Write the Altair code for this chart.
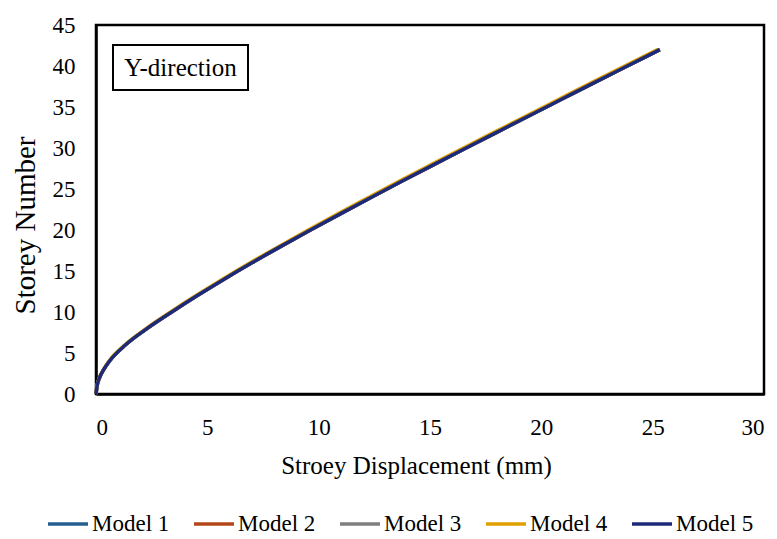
import altair as alt
import pandas as pd

storeys = [0, 1, 2, 3, 4, 6, 8, 10, 12, 14, 16, 18, 20, 22, 24, 26, 28, 30, 32, 34, 36, 38, 40, 42]
model_1 = [0, 0.05, 0.16, 0.35, 0.60, 1.33, 2.30, 3.40, 4.55, 5.75, 7.00, 8.30, 9.63, 10.99, 12.37, 13.77, 15.19, 16.62, 18.06, 19.50, 20.95, 22.40, 23.86, 25.32]
model_2 = [0, 0.05, 0.16, 0.35, 0.60, 1.33, 2.30, 3.40, 4.55, 5.75, 7.00, 8.30, 9.63, 10.99, 12.37, 13.77, 15.19, 16.62, 18.06, 19.50, 20.95, 22.40, 23.86, 25.32]
model_3 = [0, 0.05, 0.16, 0.35, 0.60, 1.33, 2.30, 3.40, 4.55, 5.75, 7.00, 8.30, 9.63, 10.99, 12.37, 13.77, 15.19, 16.62, 18.06, 19.50, 20.95, 22.40, 23.86, 25.32]
model_4 = [0, 0.05, 0.16, 0.34, 0.58, 1.30, 2.26, 3.35, 4.49, 5.68, 6.92, 8.21, 9.53, 10.88, 12.26, 13.65, 15.07, 16.50, 17.94, 19.38, 20.83, 22.28, 23.74, 25.22]
model_5 = [0, 0.05, 0.16, 0.35, 0.60, 1.33, 2.30, 3.40, 4.55, 5.75, 7.00, 8.30, 9.63, 10.99, 12.37, 13.77, 15.19, 16.62, 18.06, 19.50, 20.95, 22.40, 23.86, 25.32]

models = ["Model 1", "Model 2", "Model 3", "Model 4", "Model 5"]
colors = ["#255E91", "#B4461A", "#7F7F7F", "#E0A100", "#1C2A79"]
series = [model_1, model_2, model_3, model_4, model_5]

rows = []
for i, (name, vals) in enumerate(zip(models, series)):
    for s, d in zip(storeys, vals):
        rows.append({"Model": name, "order": i, "Storey": s, "Disp": d})
df = pd.DataFrame(rows)

FONT = "Liberation Serif"

lines = alt.Chart(df).mark_line(strokeWidth=3.5, interpolate="monotone").encode(
    x=alt.X("Disp:Q", scale=alt.Scale(domain=[0, 30], nice=False),
            axis=alt.Axis(title="Stroey Displacement (mm)", values=[0, 5, 10, 15, 20, 25, 30],
                          ticks=False, grid=False, labelPadding=22, titlePadding=14,
                          labelFont=FONT, labelFontSize=23, labelColor="black",
                          titleFont=FONT, titleFontSize=25, titleColor="black",
                          titleFontWeight="normal", titleX=320, titleAlign="center",
                          domainColor="black", domainWidth=2.5)),
    y=alt.Y("Storey:Q", scale=alt.Scale(domain=[0, 45], nice=False),
            axis=alt.Axis(title="Storey Number", values=[0, 5, 10, 15, 20, 25, 30, 35, 40, 45],
                          ticks=False, grid=False, labelPadding=21, titlePadding=12,
                          labelFont=FONT, labelFontSize=23, labelColor="black",
                          titleFont=FONT, titleFontSize=29, titleColor="black",
                          titleFontWeight="normal", titleY=200, titleAlign="center",
                          domainColor="black", domainWidth=2.5)),
    color=alt.Color("Model:N", scale=alt.Scale(domain=models, range=colors),
                    legend=alt.Legend(title=None, orient="none", direction="horizontal",
                                      legendX=-50, legendY=477,
                                      symbolType="stroke", symbolSize=1600,
                                      symbolStrokeWidth=3.5, columnPadding=17,
                                      labelOffset=2, labelFont=FONT, labelFontSize=23,
                                      labelColor="black")),
    order=alt.Order("order:Q"),
    detail="Model:N",
)

box = alt.Chart(pd.DataFrame({"t": ["Y-direction"]})).mark_rect(
    fill="white", stroke="black", strokeWidth=2
).encode(x=alt.value(17), x2=alt.value(152), y=alt.value(20), y2=alt.value(65))

label = alt.Chart(pd.DataFrame({"t": ["Y-direction"]})).mark_text(
    font=FONT, fontSize=25, color="black", align="center", baseline="middle"
).encode(text="t:N", x=alt.value(84.5), y=alt.value(43))

chart = alt.layer(lines, box, label).properties(
    width=668, height=369,
    autosize=alt.AutoSizeParams(type="none"),
    padding={"left": 88, "top": 17, "right": 5, "bottom": 143},
).configure_view(
    stroke="black", strokeWidth=2.5
)

chart.save("out.html", embed_options={"renderer": "svg", "actions": False})
